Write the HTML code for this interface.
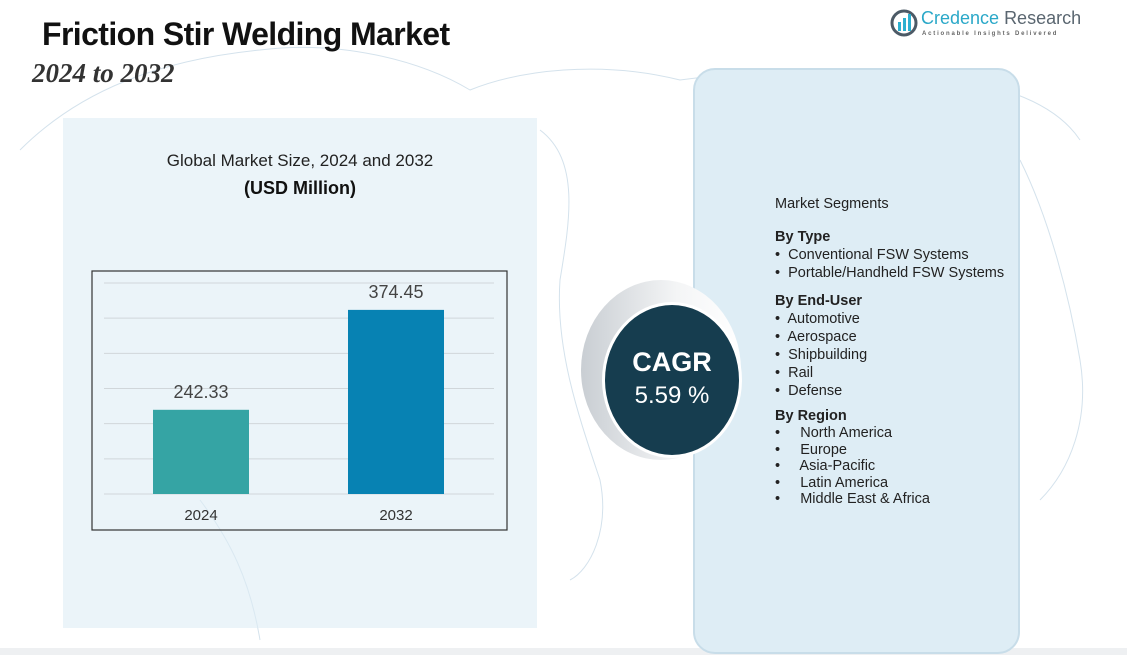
<!DOCTYPE html>
<html><head><meta charset="utf-8"><style>
body{margin:0;width:1127px;height:655px;overflow:hidden;background:#fff;font-family:"Liberation Sans",sans-serif;position:relative}
.abs{position:absolute}
</style></head><body>
<svg class="abs" style="left:0;top:0" width="1127" height="655">
<g fill="none" stroke="#d4e2ec" stroke-width="1">
<path d="M20,150 C80,90 160,60 260,50 C340,40 420,60 470,90 C520,70 600,60 680,80 C760,70 860,60 960,80 C1020,90 1060,110 1080,140"/>
<path d="M540,130 C580,160 570,220 560,280 C555,350 580,420 600,480 C610,530 590,570 570,580"/>
<path d="M1020,160 C1050,220 1070,300 1080,360 C1090,420 1070,470 1040,500"/>
<path d="M200,500 C230,540 250,580 260,640"/>
</g>
<rect x="0" y="648" width="1127" height="7" fill="#eef0f2"/>
</svg>
<div class="abs" style="left:42px;top:16px;font-size:32px;font-weight:bold;color:#111;letter-spacing:-0.6px;white-space:nowrap">Friction Stir Welding Market</div>
<div class="abs" style="left:32px;top:58px;font-family:'Liberation Serif',serif;font-style:italic;font-weight:bold;font-size:27px;color:#333;white-space:nowrap">2024 to 2032</div>
<div class="abs" style="left:890px;top:8px;width:180px;height:32px;white-space:nowrap">
<svg width="28" height="30" style="position:absolute;left:0;top:0"><circle cx="14" cy="15" r="12" fill="none" stroke="#4c5a66" stroke-width="3"/><rect x="8" y="14" width="3" height="9" fill="#2bb0d0"/><rect x="13" y="10" width="3" height="13" fill="#2bb0d0"/><rect x="18" y="6" width="3" height="17" fill="#2bb0d0"/></svg>
<div style="position:absolute;left:31px;top:0;font-size:18px;color:#2aa8c8;white-space:nowrap">Credence <span style="color:#5a6670">Research</span></div>
<div style="position:absolute;left:32px;top:23px;font-size:6px;letter-spacing:1.8px;color:#666;font-weight:bold;white-space:nowrap">Actionable Insights Delivered</div>
</div>
<div class="abs" style="left:63px;top:118px;width:474px;height:510px;background:rgba(222,236,245,0.6)"></div>
<div class="abs" style="left:63px;top:151px;width:474px;text-align:center;font-size:17px;color:#222">Global Market Size, 2024 and 2032</div>
<div class="abs" style="left:63px;top:178px;width:474px;text-align:center;font-size:18px;font-weight:bold;color:#111">(USD Million)</div>
<svg class="abs" id="chart" style="left:0;top:0" width="600" height="600"></svg>
<div class="abs" style="left:693px;top:68px;width:323px;height:582px;background:#deedf5;border:2px solid #c8dde9;border-radius:22px"></div>
<div class="abs" style="left:581px;top:280px;width:160px;height:180px;border-radius:50%;background:linear-gradient(90deg,#c9ced3,#f4f5f6 60%,#fff)"></div>
<div class="abs" style="left:602px;top:302px;width:140px;height:156px;border-radius:50%;background:#163d4f;color:#fff;text-align:center;border:3px solid #fff;box-sizing:border-box">
<div style="margin-top:42px;font-size:27px;font-weight:bold">CAGR</div>
<div style="font-size:24px;margin-top:4px">5.59 %</div></div>
<div class="abs" style="left:775px;top:195px;font-size:14.5px;color:#222;line-height:18px;white-space:nowrap">
<div style="margin-bottom:15px">Market Segments</div>
<div style="font-weight:bold">By Type</div>
<div>•&nbsp; Conventional FSW Systems</div>
<div>•&nbsp; Portable/Handheld FSW Systems</div>
<div style="font-weight:bold;margin-top:10px">By End-User</div>
<div>•&nbsp; Automotive</div><div>•&nbsp; Aerospace</div><div>•&nbsp; Shipbuilding</div><div>•&nbsp; Rail</div><div>•&nbsp; Defense</div>
<div style="font-weight:bold;margin-top:7px">By Region</div>
<div style="line-height:16.5px">•&nbsp;&nbsp;&nbsp;&nbsp; North America<br>•&nbsp;&nbsp;&nbsp;&nbsp; Europe<br>•&nbsp;&nbsp;&nbsp;&nbsp; Asia-Pacific<br>•&nbsp;&nbsp;&nbsp;&nbsp; Latin America<br>•&nbsp;&nbsp;&nbsp;&nbsp; Middle East &amp; Africa</div>
</div>
<script>
const categories=["2024","2032"];
const values=[242.33,374.45];
const valueLabels=["242.33","374.45"];
const colors=["#35a4a4","#0782b3"];
const yMin=131,yMax=410,gridCount=6;
const svg=document.getElementById('chart');const NS='http://www.w3.org/2000/svg';
const top0=283,base=494,left=104,right=494,frameL=92,frameT=271,frameR=507,frameB=530;
function y(v){return base-(v-yMin)/(yMax-yMin)*(base-top0);}
function x(i){return 153+i*195;}
const bw=96;
function el(t,a){const e=document.createElementNS(NS,t);for(const k in a)e.setAttribute(k,a[k]);svg.appendChild(e);return e;}
const fr=el('rect',{x:frameL,y:frameT,width:frameR-frameL,height:frameB-frameT,fill:'none',stroke:'#333','stroke-width':1.2});


for(let g=0;g<=gridCount;g++){const v=yMin+(yMax-yMin)*g/gridCount;const l=el('line',{x1:left,x2:right,y1:y(v),y2:y(v),stroke:'#d0d6da','stroke-width':1});

}
values.forEach((v,i)=>{
const r=el('rect',{x:x(i),y:y(v),width:bw,height:base-y(v),fill:colors[i]});


const t=el('text',{x:x(i)+bw/2,y:y(v)-12,'text-anchor':'middle','font-size':18,fill:'#444','font-family':'Liberation Sans, sans-serif'});t.textContent=valueLabels[i];


const c=el('text',{x:x(i)+bw/2,y:520,'text-anchor':'middle','font-size':15,fill:'#333','font-family':'Liberation Sans, sans-serif'});c.textContent=categories[i];


});
</script>
</body></html>
